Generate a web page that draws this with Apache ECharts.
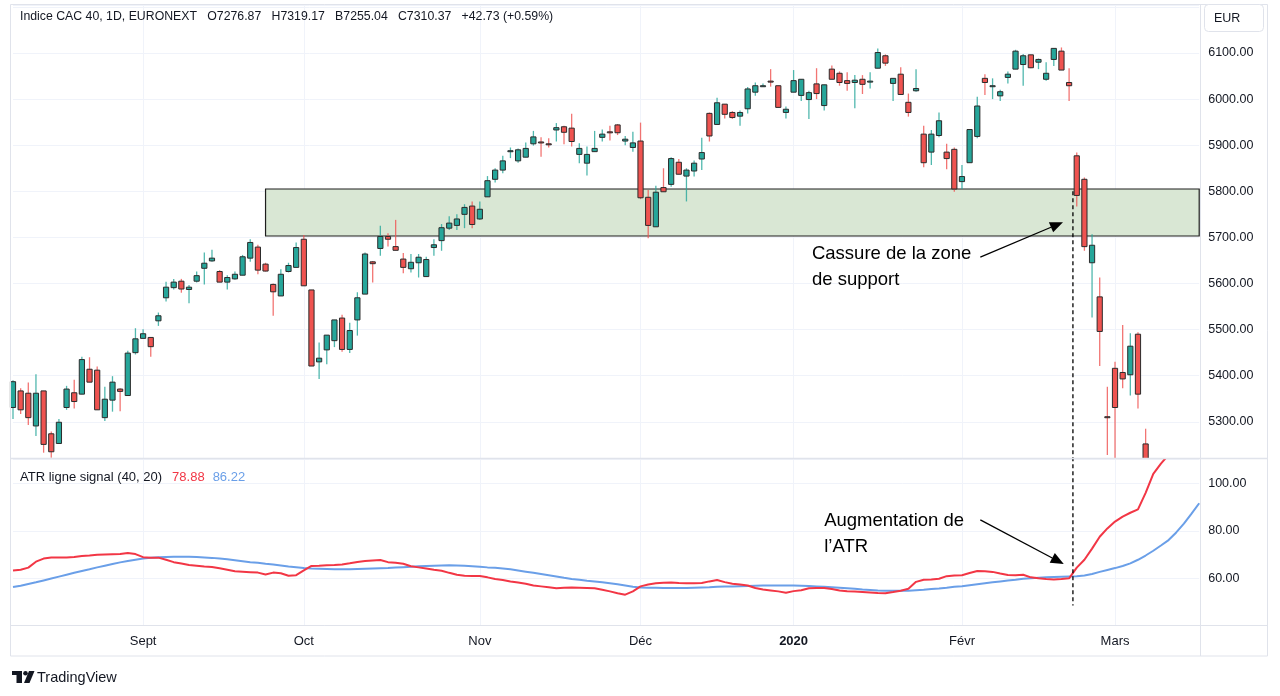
<!DOCTYPE html>
<html><head><meta charset="utf-8">
<script src="https://cdn.jsdelivr.net/npm/echarts@6/dist/echarts.min.js"></script>
<style>html,body{margin:0;padding:0;background:#fff}#c{width:1280px;height:696px}</style>
</head><body><div id="c"></div>
<script>
const categories = [
'2019-08-08','2019-08-09','2019-08-12','2019-08-13','2019-08-14','2019-08-15','2019-08-16','2019-08-19','2019-08-20','2019-08-21','2019-08-22','2019-08-23','2019-08-26','2019-08-27','2019-08-28','2019-08-29','2019-08-30',
'2019-09-02','2019-09-03','2019-09-04','2019-09-05','2019-09-06','2019-09-09','2019-09-10','2019-09-11','2019-09-12','2019-09-13','2019-09-16','2019-09-17','2019-09-18','2019-09-19','2019-09-20','2019-09-23','2019-09-24','2019-09-25','2019-09-26','2019-09-27','2019-09-30',
'2019-10-01','2019-10-02','2019-10-03','2019-10-04','2019-10-07','2019-10-08','2019-10-09','2019-10-10','2019-10-11','2019-10-14','2019-10-15','2019-10-16','2019-10-17','2019-10-18','2019-10-21','2019-10-22','2019-10-23','2019-10-24','2019-10-25','2019-10-28','2019-10-29','2019-10-30','2019-10-31',
'2019-11-01','2019-11-04','2019-11-05','2019-11-06','2019-11-07','2019-11-08','2019-11-11','2019-11-12','2019-11-13','2019-11-14','2019-11-15','2019-11-18','2019-11-19','2019-11-20','2019-11-21','2019-11-22','2019-11-25','2019-11-26','2019-11-27','2019-11-28','2019-11-29',
'2019-12-02','2019-12-03','2019-12-04','2019-12-05','2019-12-06','2019-12-09','2019-12-10','2019-12-11','2019-12-12','2019-12-13','2019-12-16','2019-12-17','2019-12-18','2019-12-19','2019-12-20','2019-12-23','2019-12-24','2019-12-27','2019-12-30','2019-12-31',
'2020-01-02','2020-01-03','2020-01-06','2020-01-07','2020-01-08','2020-01-09','2020-01-10','2020-01-13','2020-01-14','2020-01-15','2020-01-16','2020-01-17','2020-01-20','2020-01-21','2020-01-22','2020-01-23','2020-01-24','2020-01-27','2020-01-28','2020-01-29','2020-01-30','2020-01-31',
'2020-02-03','2020-02-04','2020-02-05','2020-02-06','2020-02-07','2020-02-10','2020-02-11','2020-02-12','2020-02-13','2020-02-14','2020-02-17','2020-02-18','2020-02-19','2020-02-20','2020-02-21','2020-02-24','2020-02-25','2020-02-26','2020-02-27','2020-02-28',
'2020-03-02','2020-03-03','2020-03-04','2020-03-05','2020-03-06','2020-03-09','2020-03-10','2020-03-11','2020-03-12','2020-03-13','2020-03-16','2020-03-17'];

const opens = [5331,5367,5362,5291,5367,5274,5253,5331,5363,5360,5414,5412,5309,5347,5371,5357,5450,
5481,5483,5519,5569,5591,5605,5587,5605,5633,5649,5626,5603,5610,5618,5655,5679,5642,5598,5573,5626,5635,
5696,5586,5430,5456,5476,5525,5457,5521,5577,5647,5676,5702,5680,5653,5632,5645,5615,5678,5693,5720,5726,5750,5768,
5740,5788,5826,5846,5886,5866,5874,5903,5907,5903,5933,5940,5937,5880,5861,5886,5917,5929,5944,5909,5895,
5909,5787,5723,5808,5815,5863,5833,5844,5870,5969,5945,5989,5971,5963,5979,6015,6029,6039,6029,5971,
6015,6008,5999,6033,5986,6065,6056,6040,6036,6043,6039,6067,6094,6034,6054,5993,6018,5924,5885,5921,5885,5891,
5821,5862,5919,6045,6029,6007,6047,6065,6075,6096,6080,6043,6086,6104,6036,5877,5826,5645,5571,5311,
5416,5407,5402,5490,5252,4950,4690,4835,4460,4235,3950,3900];
const closes = [5387,5326,5309,5362,5251,5235,5299,5371,5344,5435,5386,5326,5349,5386,5366,5449,5480,
5491,5463,5530,5592,5603,5588,5592,5617,5644,5655,5603,5613,5620,5658,5689,5629,5627,5582,5620,5639,5678,
5595,5421,5438,5488,5521,5457,5498,5569,5664,5643,5702,5696,5672,5635,5646,5657,5652,5684,5721,5731,5740,5765,5728,
5761,5823,5846,5866,5888,5890,5893,5918,5906,5902,5938,5928,5908,5893,5880,5893,5924,5928,5927,5913,5905,
5786,5726,5798,5799,5871,5837,5846,5861,5884,5920,5992,5967,5960,5971,6022,6029,6029,6038,5982,5978,
6040,6043,6014,6012,6031,6043,6036,6034,6041,6032,6039,6101,6078,6045,6010,5971,6023,5862,5924,5953,5871,5805,
5832,5934,5985,6036,6029,6016,6054,6104,6094,6068,6086,6056,6110,6063,6029,5791,5680,5683,5496,5309,
5331,5393,5464,5360,5139,4708,4791,4728,4045,4119,3881,3991];
const lows = [5306,5317,5293,5269,5233,5222,5253,5326,5329,5360,5386,5326,5302,5322,5323,5357,5446,
5481,5441,5508,5561,5587,5580,5557,5602,5598,5647,5603,5587,5608,5618,5647,5620,5626,5530,5573,5624,5635,
5595,5421,5393,5425,5462,5452,5449,5487,5577,5602,5660,5680,5672,5622,5624,5613,5615,5660,5671,5716,5716,5720,5720,
5738,5788,5819,5839,5872,5862,5874,5899,5875,5895,5908,5902,5897,5861,5834,5886,5908,5910,5922,5900,5886,
5783,5698,5723,5799,5810,5837,5778,5832,5846,5908,5945,5958,5957,5942,5969,6007,6027,6027,5982,5958,
6015,5996,5957,6000,5975,6043,6029,6018,5980,6011,6023,6067,6072,5996,6010,5962,6016,5852,5857,5917,5848,5799,
5805,5862,5915,6009,6000,5996,6034,6065,6029,6067,6065,6040,6072,6063,5996,5767,5671,5526,5421,5228,
5180,5373,5357,5329,5100,4686,4612,4680,4030,3960,3760,3790];
const highs = [5390,5373,5385,5403,5367,5279,5306,5378,5391,5441,5440,5420,5376,5399,5373,5454,5503,
5501,5483,5537,5604,5610,5610,5597,5626,5667,5673,5629,5618,5626,5662,5696,5684,5645,5600,5631,5645,5689,
5705,5586,5472,5488,5521,5532,5515,5581,5667,5649,5725,5709,5738,5666,5664,5664,5658,5696,5729,5746,5750,5772,5778,
5778,5833,5850,5877,5895,5893,5906,5931,5917,5915,5948,5942,5968,5904,5897,5931,5934,5942,5946,5920,5929,
5949,5803,5812,5850,5874,5870,5850,5867,5916,5971,6003,5989,5974,5975,6026,6036,6034,6065,6029,5984,
6063,6043,6018,6067,6031,6073,6060,6058,6052,6052,6058,6110,6097,6045,6069,6012,6065,5942,5933,5971,5903,5895,
5857,5934,6005,6054,6045,6020,6060,6107,6098,6096,6088,6080,6110,6112,6067,5884,5830,5707,5613,5376,
5430,5510,5492,5494,5285,4990,4905,4886,4470,4330,4000,4080];

const atrValues = [63.3,63.6,64.5,67.0,68.3,68.8,68.8,68.8,69.0,69.4,
69.6,69.9,70.0,70.1,70.2,70.7,70.2,68.9,68.7,68.7,
67.8,66.8,66.2,65.6,65.3,65.0,64.8,64.2,63.6,63.0,
62.8,62.6,62.4,61.6,62.4,62.1,61.1,61.3,63.3,65.2,
65.3,65.5,65.6,65.8,66.3,66.9,67.3,67.5,67.7,66.8,
66.5,66.1,65.1,64.6,64.1,63.6,63.2,62.3,61.5,61.1,
61.0,61.0,60.4,59.7,59.3,58.7,58.2,57.7,57.0,56.6,
56.2,55.8,56.0,56.1,56.0,55.9,55.8,55.2,54.5,53.7,
53.1,54.5,56.6,57.4,57.9,58.1,58.2,58.0,57.9,57.9,
58.0,58.7,59.3,58.4,57.7,57.4,57.0,55.9,55.3,54.9,
54.5,53.9,54.6,55.0,55.8,55.9,55.9,55.5,54.9,54.6,
54.4,54.2,54.0,53.8,53.7,54.2,54.8,55.6,58.5,59.4,
59.5,59.8,60.9,61.2,61.3,62.2,63.1,63.0,62.7,62.0,
61.4,61.3,61.5,60.4,60.0,59.7,59.5,59.7,60.0,64.5,
67.8,72.5,77.5,81.0,83.9,86.0,87.6,89.0,96.0,104.0,
108.3,112.0,118.0,125.0,132.0,140.0];
const signalValues = [56.3,56.9,57.6,58.3,59.1,59.9,60.7,61.5,62.3,63.1,
63.8,64.6,65.3,66.0,66.7,67.3,67.8,68.3,68.7,68.9,
69.0,69.1,69.1,69.1,69.0,68.8,68.6,68.3,68.0,67.6,
67.2,66.8,66.5,66.1,65.8,65.4,65.0,64.7,64.3,64.1,
64.0,63.9,63.8,63.8,63.8,63.9,64.0,64.1,64.2,64.3,
64.5,64.7,64.9,65.1,65.2,65.3,65.4,65.5,65.4,65.3,
65.1,64.9,64.6,64.4,64.1,63.8,63.3,62.8,62.3,61.8,
61.3,60.8,60.2,59.7,59.4,59.0,58.7,58.3,57.9,57.5,
57.0,56.4,56.1,56.0,56.0,55.9,55.9,55.9,55.9,56.0,
56.1,56.2,56.4,56.5,56.6,56.7,56.8,56.9,57.0,57.0,
57.0,57.0,57.0,56.9,56.8,56.6,56.4,56.2,56.0,55.8,
55.6,55.3,55.1,54.9,54.8,54.8,54.8,54.8,55.0,55.2,
55.5,55.7,56.0,56.4,56.7,57.1,57.5,57.9,58.3,58.7,
59.1,59.4,59.8,60.0,60.2,60.4,60.6,60.7,60.8,60.9,
61.2,61.8,62.7,63.5,64.3,65.2,66.3,67.8,69.6,71.6,
73.8,76.1,79.3,83.0,87.2,91.6];

const monthLabels = {'2019-09-02':'Sept','2019-10-01':'Oct','2019-11-01':'Nov','2019-12-02':'Déc','2020-01-02':'2020','2020-02-03':'Févr','2020-03-02':'Mars'};
const priceTicks = [5300,5400,5500,5600,5700,5800,5900,6000,6100];
const atrTicks = [60,80,100];
const zone = {from:'2019-09-24', to:'2020-03-17', top:5805, bottom:5703};
const breakIndex = 138.5;

const titleText = 'Indice CAC 40, 1D, EURONEXT   O7276.87   H7319.17   B7255.04   C7310.37   +42.73 (+0.59%)';
const legendName = 'ATR ligne signal (40, 20)';
const legendAtr = '78.88', legendSignal = '86.22';

const GREEN = '#26a69a', RED = '#ef5350';
const FONT = 'Liberation Sans';
const TXT = '#131722';
const GRIDC = '#f0f3fa';

const chart = echarts.init(document.getElementById('c'), null, {renderer:'canvas'});
const candleData = categories.map((d,i)=>[i, opens[i], closes[i], lows[i], highs[i]]);
const monthInterval = (idx, val) => monthLabels[val] !== undefined;

const option = {
  animation:false,
  backgroundColor:'#ffffff',
  grid:[
    {left:13, right:80.8, top:5, height:453.5},
    {left:13, right:80.8, top:459, height:166}
  ],
  xAxis:[
    {type:'category', gridIndex:0, data:categories, boundaryGap:false,
     axisLine:{show:false}, axisTick:{show:false}, axisLabel:{show:false},
     splitLine:{show:true, interval:monthInterval, lineStyle:{color:GRIDC, width:1}}},
    {type:'category', gridIndex:1, data:categories, boundaryGap:false,
     axisLine:{show:false}, axisTick:{show:false},
     axisLabel:{show:true, interval:monthInterval, margin:10, fontFamily:FONT, fontSize:13, color:TXT,
       formatter:(v)=> v==='2020-01-02' ? '{b|2020}' : (monthLabels[v]||''),
       rich:{b:{fontFamily:FONT, fontSize:13, fontWeight:'bold', color:TXT}}},
     splitLine:{show:true, interval:monthInterval, lineStyle:{color:GRIDC, width:1}}}
  ],
  yAxis:[
    {type:'value', gridIndex:0, position:'right', min:5220.4, max:6204.1, splitNumber:10, scale:true,
     axisLine:{show:false}, axisTick:{show:false},
     axisLabel:{margin:9, fontFamily:FONT, fontSize:12.5, color:TXT, showMinLabel:false, showMaxLabel:false,
       formatter:(v)=> priceTicks.includes(Math.round(v)) ? Math.round(v).toFixed(2) : ''},
     splitLine:{lineStyle:{color:GRIDC, width:1}}},
    {type:'value', gridIndex:1, position:'right', min:40.34, max:110.23, splitNumber:3, scale:true,
     axisLine:{show:false}, axisTick:{show:false},
     axisLabel:{margin:9, fontFamily:FONT, fontSize:12.5, color:TXT, showMinLabel:false, showMaxLabel:false,
       formatter:(v)=> atrTicks.includes(Math.round(v)) ? Math.round(v).toFixed(2) : ''},
     splitLine:{lineStyle:{color:GRIDC, width:1}}}
  ],
  series:[
    {type:'custom', name:'CAC 40', xAxisIndex:0, yAxisIndex:0, z:5,
     data:candleData, encode:{x:0, y:[1,2,3,4]},
     markArea:{silent:true, z:1,
       itemStyle:{color:'#d9e7d4', borderColor:'#1e1e1e', borderWidth:1.2},
       data:[[{xAxis:zone.from, yAxis:zone.top},{xAxis:zone.to, yAxis:zone.bottom}]]},
     renderItem:(params, api)=>{
       const i = api.value(0), o = api.value(1), c = api.value(2), l = api.value(3), h = api.value(4);
       const cs = params.coordSys; const top = cs.y, bot = cs.y + cs.height;
       const pO = api.coord([i,o]), pC = api.coord([i,c]), pL = api.coord([i,l]), pH = api.coord([i,h]);
       const x = pO[0];
       if (pH[1] >= bot) return null;
       const up = c >= o;
       const col = up ? GREEN : RED;
       const w = Math.max(3, api.size([1,0])[0]*0.68);
       const children = [];
       children.push({type:'line', shape:{x1:x, y1:Math.max(pH[1],top), x2:x, y2:Math.min(pL[1],bot)},
         style:{stroke:col, lineWidth:1.3, opacity:0.8}});
       let bt = Math.min(pO[1], pC[1]), bb = Math.max(pO[1], pC[1]);
       if (bt < bot) {
         bb = Math.min(bb, bot);
         const hgt = Math.max(1, bb-bt);
         children.push({type:'rect', shape:{x:x-w/2, y:bt, width:w, height:hgt},
           style:{fill:col, stroke:'#2b2b2b', lineWidth:1}});
       }
       return {type:'group', children};
     }},
    {type:'line', name:'ATR', xAxisIndex:1, yAxisIndex:1, data:atrValues, showSymbol:false, z:4,
     lineStyle:{color:'#f23645', width:2}, clip:true},
    {type:'line', name:'Signal', xAxisIndex:1, yAxisIndex:1, data:signalValues, showSymbol:false, z:3,
     lineStyle:{color:'#6a9fe8', width:2}, clip:true}
  ]
};
chart.setOption(option);

function px(i, v, g){
  const i0 = Math.floor(i), f = i - i0;
  const a = chart.convertToPixel({gridIndex:g}, [i0, v]);
  const b = chart.convertToPixel({gridIndex:g}, [i0+1, v]);
  return [a[0] + (b[0]-a[0])*f, a[1]];
}
function arrow(p0, p1){
  const dx = p1[0]-p0[0], dy = p1[1]-p0[1], L = Math.hypot(dx,dy);
  const ux = dx/L, uy = dy/L, hl = 13, hw = 5.5;
  const bx = p1[0]-ux*hl, by = p1[1]-uy*hl;
  return [
    {type:'line', shape:{x1:p0[0], y1:p0[1], x2:bx, y2:by}, style:{stroke:'#000', lineWidth:1.3}, z:20},
    {type:'polygon', shape:{points:[[p1[0],p1[1]],[bx-uy*hw, by+ux*hw],[bx+uy*hw, by-ux*hw]]}, style:{fill:'#000'}, z:20}
  ];
}
const dTop = px(breakIndex, 5800, 0), dBot = px(breakIndex, 48.5, 1);
const a1s = px(126.4, 5657, 0), a1e = px(137.2, 5733, 0);
const a2s = px(126.4, 84.6, 1), a2e = px(137.3, 66.0, 1);
const t1 = px(104.4, 5664, 0), t1b = px(104.4, 5607, 0);
const t2 = px(106.0, 84.1, 1), t2b = px(106.0, 73.2, 1);
const annFont = {fontFamily:'Liberation Sans', fontSize:18.5, fill:'#000', verticalAlign:'middle', align:'left'};

const graphics = [
  {type:'rect', shape:{x:10.5, y:4.5, width:1257, height:651.5}, style:{fill:'none', stroke:'#e0e3eb', lineWidth:1}, z:30, silent:true},
  {type:'line', shape:{x1:1200.5, y1:4.5, x2:1200.5, y2:656}, style:{stroke:'#e0e3eb', lineWidth:1}, z:30, silent:true},
  {type:'line', shape:{x1:10.5, y1:458.5, x2:1267.5, y2:458.5}, style:{stroke:'#e0e3eb', lineWidth:1.5}, z:30, silent:true},
  {type:'line', shape:{x1:10.5, y1:625.5, x2:1267.5, y2:625.5}, style:{stroke:'#e0e3eb', lineWidth:1}, z:30, silent:true},
  {type:'rect', shape:{x:1204.5, y:4.5, width:59, height:27, r:4}, style:{fill:'#fff', stroke:'#e0e3eb', lineWidth:1}, z:31},
  {type:'text', x:1214, y:18.5, style:{text:'EUR', fontFamily:FONT, fontSize:12.5, fill:TXT, verticalAlign:'middle'}, z:32},
  {type:'text', x:20, y:17, style:{text:titleText, fontFamily:FONT, fontSize:12.3, fill:TXT, verticalAlign:'middle'}, z:32},
  {type:'text', x:20, y:477, style:{text:'{a|'+legendName+'}{r|'+legendAtr+'}{b|'+legendSignal+'}', verticalAlign:'middle',
    rich:{a:{fontFamily:FONT, fontSize:13, fill:TXT, padding:[0,10,0,0]}, r:{fontFamily:FONT, fontSize:13, fill:'#f23645', padding:[0,8,0,0]}, b:{fontFamily:FONT, fontSize:13, fill:'#6a9fe8'}}}, z:32},
  {type:'line', shape:{x1:dTop[0], y1:dTop[1], x2:dBot[0], y2:dBot[1]}, style:{stroke:'#000', lineWidth:1.3, lineDash:[4,3]}, z:20},
  ...arrow(a1s, a1e),
  ...arrow(a2s, a2e),
  {type:'text', x:t1[0], y:t1[1], style:Object.assign({text:'Cassure de la zone'}, annFont), z:21},
  {type:'text', x:t1b[0], y:t1b[1], style:Object.assign({text:'de support'}, annFont), z:21},
  {type:'text', x:t2[0], y:t2[1], style:Object.assign({text:'Augmentation de'}, annFont), z:21},
  {type:'text', x:t2b[0], y:t2b[1], style:Object.assign({text:'l’ATR'}, annFont), z:21},
  {type:'rect', shape:{x:12, y:671, width:10, height:4}, style:{fill:TXT}, z:32},
  {type:'rect', shape:{x:16.5, y:671, width:5.5, height:12}, style:{fill:TXT}, z:32},
  {type:'circle', shape:{cx:25.5, cy:673.2, r:2.3}, style:{fill:TXT}, z:32},
  {type:'polygon', shape:{points:[[29,671],[34.5,671],[29.5,683],[24,683]]}, style:{fill:TXT}, z:32},
  {type:'text', x:37, y:677.5, style:{text:'TradingView', fontFamily:FONT, fontSize:14.5, fill:TXT, verticalAlign:'middle'}, z:32}
];
chart.setOption({graphic:graphics});
</script>
</body></html>
